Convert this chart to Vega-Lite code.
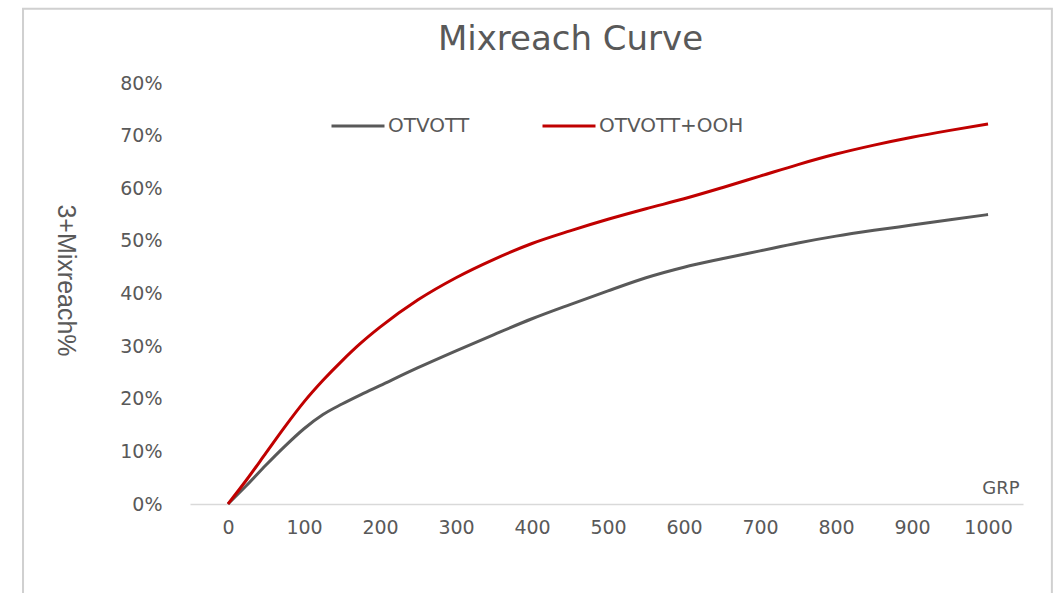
{
  "$schema": "https://vega.github.io/schema/vega-lite/v6.json",
  "width": 833,
  "height": 421,
  "autosize": "none",
  "padding": {"left": 190, "top": 83, "right": 41, "bottom": 89},
  "background": "white",
  "config": {"view": {"stroke": null}, "font": "DejaVu Sans"},
  "title": {
    "text": "Mixreach Curve",
    "font": "DejaVu Sans",
    "fontSize": 34,
    "fontWeight": "normal",
    "color": "#595959",
    "anchor": "middle",
    "frame": "group",
    "baseline": "alphabetic",
    "offset": 0,
    "dx": -36,
    "dy": 76
  },
  "layer": [
    {
      "data": {"values": [{"frame": 1}]},
      "mark": {"type": "rect", "fill": null, "stroke": "#d0d0d0", "strokeWidth": 2, "clip": false},
      "encoding": {
        "x": {
          "datum": -269.7,
          "type": "quantitative",
          "scale": {"domain": [-50, 1046], "nice": false, "zero": false},
          "axis": {
            "values": [0, 100, 200, 300, 400, 500, 600, 700, 800, 900, 1000],
            "format": "d",
            "title": "GRP",
            "titleFont": "DejaVu Sans",
            "titleFontSize": 18,
            "titleFontWeight": "normal",
            "titleColor": "#595959",
            "titleAlign": "right",
            "titleBaseline": "middle",
            "titleX": 829,
            "titleY": -16,
            "labelFont": "DejaVu Sans",
            "labelFontSize": 19,
            "labelColor": "#595959",
            "labelPadding": 14,
            "labelFlush": false,
            "labelOverlap": false,
            "ticks": false,
            "grid": false,
            "domainColor": "#d9d9d9",
            "domainWidth": 1.5
          }
        },
        "x2": {"datum": 1084},
        "y": {
          "datum": 0.941,
          "type": "quantitative",
          "scale": {"domain": [0, 0.8], "nice": false},
          "axis": {
            "values": [0, 0.1, 0.2, 0.3, 0.4, 0.5, 0.6, 0.7, 0.8],
            "format": ".0%",
            "title": "3+Mixreach%",
            "titleFont": "Liberation Sans",
            "titleFontSize": 25,
            "titleFontWeight": "normal",
            "titleColor": "#595959",
            "titleAngle": 90,
            "titleAlign": "center",
            "titleBaseline": "middle",
            "titleX": -125,
            "titleY": 197,
            "labelFont": "DejaVu Sans",
            "labelFontSize": 19,
            "labelColor": "#595959",
            "labelPadding": 28,
            "labelFlush": false,
            "labelOverlap": false,
            "ticks": false,
            "grid": false,
            "domain": false
          }
        },
        "y2": {"datum": -0.2}
      }
    },
    {
      "data": {
        "values": [
          {"grp": 0, "series": "OTVOTT", "reach": 0.0},
          {"grp": 25, "series": "OTVOTT", "reach": 0.036},
          {"grp": 50, "series": "OTVOTT", "reach": 0.074},
          {"grp": 75, "series": "OTVOTT", "reach": 0.11},
          {"grp": 100, "series": "OTVOTT", "reach": 0.143},
          {"grp": 125, "series": "OTVOTT", "reach": 0.17},
          {"grp": 150, "series": "OTVOTT", "reach": 0.19},
          {"grp": 175, "series": "OTVOTT", "reach": 0.208},
          {"grp": 200, "series": "OTVOTT", "reach": 0.225},
          {"grp": 250, "series": "OTVOTT", "reach": 0.259},
          {"grp": 300, "series": "OTVOTT", "reach": 0.291},
          {"grp": 350, "series": "OTVOTT", "reach": 0.322},
          {"grp": 400, "series": "OTVOTT", "reach": 0.352},
          {"grp": 450, "series": "OTVOTT", "reach": 0.379},
          {"grp": 500, "series": "OTVOTT", "reach": 0.405},
          {"grp": 550, "series": "OTVOTT", "reach": 0.43},
          {"grp": 600, "series": "OTVOTT", "reach": 0.45},
          {"grp": 650, "series": "OTVOTT", "reach": 0.466},
          {"grp": 700, "series": "OTVOTT", "reach": 0.481},
          {"grp": 750, "series": "OTVOTT", "reach": 0.496},
          {"grp": 800, "series": "OTVOTT", "reach": 0.509},
          {"grp": 850, "series": "OTVOTT", "reach": 0.52},
          {"grp": 900, "series": "OTVOTT", "reach": 0.53},
          {"grp": 950, "series": "OTVOTT", "reach": 0.54},
          {"grp": 1000, "series": "OTVOTT", "reach": 0.55},
          {"grp": 0, "series": "OTVOTT+OOH", "reach": 0.0},
          {"grp": 25, "series": "OTVOTT+OOH", "reach": 0.047},
          {"grp": 50, "series": "OTVOTT+OOH", "reach": 0.097},
          {"grp": 75, "series": "OTVOTT+OOH", "reach": 0.147},
          {"grp": 100, "series": "OTVOTT+OOH", "reach": 0.194},
          {"grp": 125, "series": "OTVOTT+OOH", "reach": 0.235},
          {"grp": 150, "series": "OTVOTT+OOH", "reach": 0.272},
          {"grp": 175, "series": "OTVOTT+OOH", "reach": 0.306},
          {"grp": 200, "series": "OTVOTT+OOH", "reach": 0.336},
          {"grp": 250, "series": "OTVOTT+OOH", "reach": 0.388},
          {"grp": 300, "series": "OTVOTT+OOH", "reach": 0.43},
          {"grp": 350, "series": "OTVOTT+OOH", "reach": 0.465},
          {"grp": 400, "series": "OTVOTT+OOH", "reach": 0.495},
          {"grp": 450, "series": "OTVOTT+OOH", "reach": 0.519},
          {"grp": 500, "series": "OTVOTT+OOH", "reach": 0.541},
          {"grp": 550, "series": "OTVOTT+OOH", "reach": 0.561},
          {"grp": 600, "series": "OTVOTT+OOH", "reach": 0.58},
          {"grp": 650, "series": "OTVOTT+OOH", "reach": 0.601},
          {"grp": 700, "series": "OTVOTT+OOH", "reach": 0.623},
          {"grp": 750, "series": "OTVOTT+OOH", "reach": 0.645},
          {"grp": 800, "series": "OTVOTT+OOH", "reach": 0.665},
          {"grp": 850, "series": "OTVOTT+OOH", "reach": 0.682},
          {"grp": 900, "series": "OTVOTT+OOH", "reach": 0.697},
          {"grp": 950, "series": "OTVOTT+OOH", "reach": 0.71},
          {"grp": 1000, "series": "OTVOTT+OOH", "reach": 0.722}
        ]
      },
      "mark": {"type": "line", "strokeWidth": 3, "interpolate": "monotone"},
      "encoding": {
        "x": {
          "field": "grp",
          "type": "quantitative",
          "scale": {"domain": [-50, 1046], "nice": false, "zero": false},
          "axis": {
            "values": [0, 100, 200, 300, 400, 500, 600, 700, 800, 900, 1000],
            "format": "d",
            "title": "GRP",
            "titleFont": "DejaVu Sans",
            "titleFontSize": 18,
            "titleFontWeight": "normal",
            "titleColor": "#595959",
            "titleAlign": "right",
            "titleBaseline": "middle",
            "titleX": 829,
            "titleY": -16,
            "labelFont": "DejaVu Sans",
            "labelFontSize": 19,
            "labelColor": "#595959",
            "labelPadding": 14,
            "labelFlush": false,
            "labelOverlap": false,
            "ticks": false,
            "grid": false,
            "domainColor": "#d9d9d9",
            "domainWidth": 1.5
          }
        },
        "y": {
          "field": "reach",
          "type": "quantitative",
          "scale": {"domain": [0, 0.8], "nice": false},
          "axis": {
            "values": [0, 0.1, 0.2, 0.3, 0.4, 0.5, 0.6, 0.7, 0.8],
            "format": ".0%",
            "title": "3+Mixreach%",
            "titleFont": "Liberation Sans",
            "titleFontSize": 25,
            "titleFontWeight": "normal",
            "titleColor": "#595959",
            "titleAngle": 90,
            "titleAlign": "center",
            "titleBaseline": "middle",
            "titleX": -125,
            "titleY": 197,
            "labelFont": "DejaVu Sans",
            "labelFontSize": 19,
            "labelColor": "#595959",
            "labelPadding": 28,
            "labelFlush": false,
            "labelOverlap": false,
            "ticks": false,
            "grid": false,
            "domain": false
          }
        },
        "color": {
          "field": "series",
          "type": "nominal",
          "scale": {"domain": ["OTVOTT", "OTVOTT+OOH"], "range": ["#595959", "#c00000"]},
          "legend": {
            "orient": "none",
            "legendX": 140,
            "legendY": 15,
            "direction": "horizontal",
            "title": null,
            "symbolType": "stroke",
            "symbolSize": 2809,
            "symbolStrokeWidth": 3,
            "labelFont": "DejaVu Sans",
            "labelFontSize": 20,
            "labelColor": "#595959",
            "labelOffset": 2,
            "columnPadding": 66
          }
        }
      }
    }
  ]
}
